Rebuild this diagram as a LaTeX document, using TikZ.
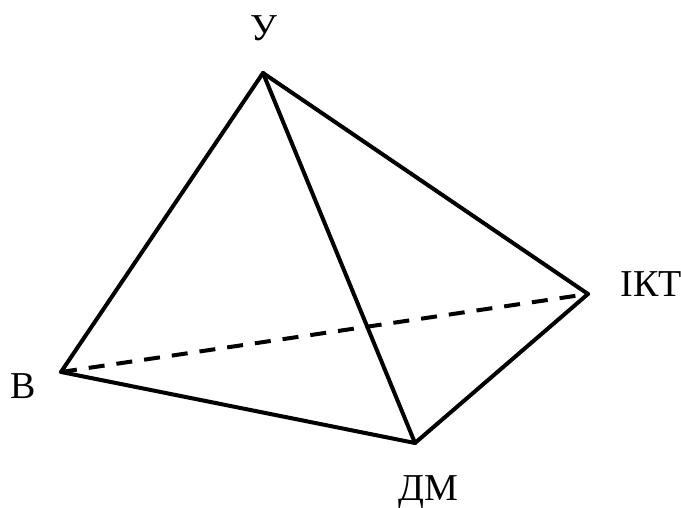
\documentclass[tikz,border=0pt]{standalone}
\usepackage{fontspec}
\setmainfont{Liberation Serif}
\usetikzlibrary{positioning}

\begin{document}
\begin{tikzpicture}[
    x=1pt, y=-1pt,
    lbl/.style={inner sep=0pt, font=\fontsize{38}{42}\selectfont},
    edge/.style={line width=4pt, line cap=round, line join=round, black}
]
\useasboundingbox (0,0) rectangle (681,508);
\coordinate (top) at (263,73);
\coordinate (left) at (61,372);
\coordinate (right) at (588,294);
\coordinate (bottom) at (415,443);

\node[lbl] (ly) at (264,28) {У};
\node[lbl] (lb) at (23.5,386) {В};
\node[lbl] (lk) at (651,284) {ІКТ};
\node[lbl] (ld) at (428,492) {ДМ};

\draw[edge] (top) -- (left);
\draw[edge] (top) -- (right);
\draw[edge] (top) -- (bottom);
\draw[edge] (left) -- (bottom);
\draw[edge] (bottom) -- (right);
\draw[edge, line cap=butt, dash pattern=on 16pt off 12pt] (left) -- (right);
\end{tikzpicture}
\end{document}
